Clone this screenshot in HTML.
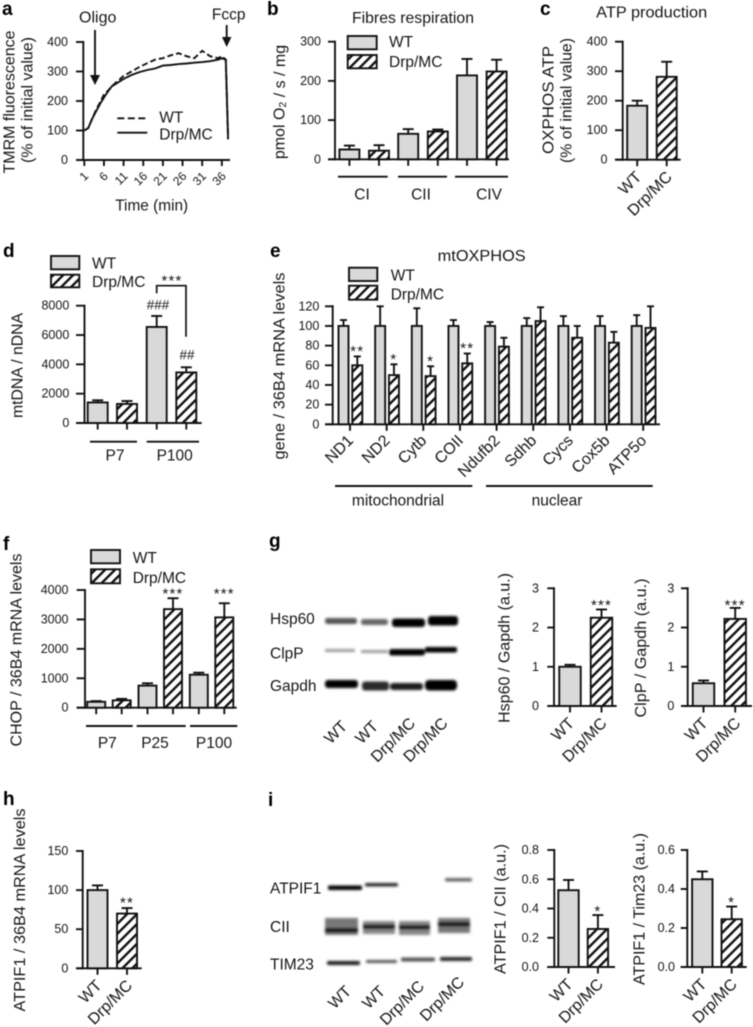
<!DOCTYPE html>
<html lang="en">
<head>
<meta charset="utf-8">
<title>Mitochondrial figure panels</title>
<style>
html,body{margin:0;padding:0;background:#fff;width:753px;height:1027px;overflow:hidden}
svg{display:block;filter:blur(.5px)}
text{font-family:"Liberation Sans",sans-serif;fill:#151515;dominant-baseline:central}
.letter{font-weight:bold;font-size:19px;fill:#000;dominant-baseline:auto}
.lab{font-size:15.5px}
.ttl{font-size:16px;text-anchor:middle}
.gray{fill:#d9d9d9;stroke:#111;stroke-width:1.9}
.hatch{fill:url(#hatch);stroke:#111;stroke-width:1.9}
</style>
</head>
<body>
<svg id="figure" xmlns="http://www.w3.org/2000/svg" width="753" height="1027" viewBox="0 0 753 1027">
<defs>
<pattern id="hatch" patternUnits="userSpaceOnUse" width="7" height="7" patternTransform="rotate(45)">
<rect width="7" height="7" fill="#fff"/><rect width="2.4" height="7" fill="#111"/>
</pattern>
<filter id="blur" x="-20%" y="-100%" width="140%" height="300%"><feGaussianBlur stdDeviation="1.2"/></filter>
</defs>

<!-- panel letters -->
<text class="letter" x="2" y="15">a</text>
<text class="letter" x="267" y="15">b</text>
<text class="letter" x="540" y="15">c</text>
<text class="letter" x="3" y="257">d</text>
<text class="letter" x="270" y="257">e</text>
<text class="letter" x="3" y="550">f</text>
<text class="letter" x="269" y="547">g</text>
<text class="letter" x="3" y="805">h</text>
<text class="letter" x="268" y="806">i</text>

<!-- panel a annotations -->
<text class="ttl" transform="rotate(-90 10 102)" x="10" y="102" textLength="143" lengthAdjust="spacingAndGlyphs">TMRM fluorescence</text>
<text class="ttl" transform="rotate(-90 28 100)" x="28" y="100" textLength="126" lengthAdjust="spacingAndGlyphs">(% of initial value)</text>
<text class="ttl" x="151.7" y="206" textLength="73" lengthAdjust="spacingAndGlyphs">Time (min)</text>
<text class="ttl" x="97.7" y="18">Oligo</text>
<text class="ttl" x="228.7" y="15" style="font-size:15.5px">Fccp</text>
<path d="M95 30V76" stroke="#111" stroke-width="1.9" fill="none"/>
<path d="M90 75H100L95 85Z" fill="#111"/>
<path d="M226.7 25V38" stroke="#111" stroke-width="1.9" fill="none"/>
<path d="M222 37H231.4L226.7 47Z" fill="#111"/>
<path d="M117.3 118.3H147.3" stroke="#111" stroke-width="1.9" stroke-dasharray="7 3.5" fill="none"/>
<path d="M117.3 132.7H147.3" stroke="#111" stroke-width="1.9" fill="none"/>
<text class="lab" x="159.3" y="118">WT</text>
<text class="lab" x="159.3" y="135">Drp/MC</text>

<!-- panel b annotations -->
<text class="ttl" x="413" y="18.3" textLength="122" lengthAdjust="spacingAndGlyphs">Fibres respiration</text>
<text class="ttl" transform="rotate(-90 280 102)" x="280" y="102">pmol O<tspan font-size="10.5" dy="3">2</tspan><tspan dy="-3"> / s / mg</tspan></text>
<rect class="gray" x="347.7" y="36" width="29" height="13.3"/>
<rect class="hatch" x="347.7" y="55" width="29" height="13.3"/>
<text class="lab" x="389" y="42.7">WT</text>
<text class="lab" x="389" y="62.3">Drp/MC</text>

<!-- panel c annotations -->
<text class="ttl" x="651.7" y="13" textLength="111" lengthAdjust="spacingAndGlyphs">ATP production</text>
<text class="ttl" transform="rotate(-90 549 100)" x="549" y="100" textLength="108" lengthAdjust="spacingAndGlyphs">OXPHOS ATP</text>
<text class="ttl" transform="rotate(-90 567 100.5)" x="567" y="100.5" textLength="125" lengthAdjust="spacingAndGlyphs">(% of initial value)</text>

<!-- panel d annotations -->
<text class="ttl" transform="rotate(-90 18 365.5)" x="18" y="365.5" textLength="105" lengthAdjust="spacingAndGlyphs">mtDNA / nDNA</text>
<rect class="gray" x="51" y="256" width="28.3" height="13.3"/>
<rect class="hatch" x="51" y="274.7" width="28.3" height="12.6"/>
<text class="lab" x="92" y="264">WT</text>
<text class="lab" x="92" y="282.7">Drp/MC</text>
<path d="M156.7 293.3V285.7H186V336.7" stroke="#111" stroke-width="1.7" fill="none"/>
<text class="ttl" x="172" y="281" style="font-size:15px;letter-spacing:1.2px">***</text>
<text class="ttl" x="158" y="305" style="font-size:13.5px">###</text>
<text class="ttl" x="187" y="355" style="font-size:13.5px">##</text>

<!-- panel e annotations -->
<text class="ttl" x="481.7" y="256.7" textLength="88" lengthAdjust="spacingAndGlyphs">mtOXPHOS</text>
<text class="ttl" transform="rotate(-90 280 366)" x="280" y="366" textLength="187" lengthAdjust="spacingAndGlyphs">gene / 36B4 mRNA levels</text>
<rect class="gray" x="349" y="267.7" width="28.3" height="13.3"/>
<rect class="hatch" x="349" y="285.7" width="28.3" height="14"/>
<text class="lab" x="390.7" y="276">WT</text>
<text class="lab" x="390.7" y="295">Drp/MC</text>

<!-- panel f annotations -->
<text class="ttl" transform="rotate(-90 17 650)" x="17" y="650" textLength="193" lengthAdjust="spacingAndGlyphs">CHOP / 36B4 mRNA levels</text>
<rect class="gray" x="91" y="550" width="29" height="13.3"/>
<rect class="hatch" x="91" y="569.3" width="29" height="14"/>
<text class="lab" x="132.7" y="558.3">WT</text>
<text class="lab" x="132.7" y="578.3">Drp/MC</text>

<!-- panel g blot -->
<g filter="url(#blur)">
<rect x="325" y="618" width="32" height="6" rx="2.5" fill="#555"/>
<rect x="361" y="619" width="27" height="6" rx="2.5" fill="#666"/>
<rect x="392" y="618.5" width="33" height="8.5" rx="3" fill="#000"/>
<rect x="428" y="616" width="30" height="9.5" rx="3" fill="#000"/>
<rect x="325" y="649" width="30" height="3" rx="1" fill="#999"/>
<rect x="361" y="650" width="27" height="3" rx="1" fill="#999"/>
<rect x="389" y="649" width="36" height="6.5" rx="2.5" fill="#000"/>
<rect x="425" y="647" width="32" height="5.5" rx="2" fill="#000"/>
<rect x="325" y="680" width="33" height="8" rx="3" fill="#050505"/>
<rect x="362" y="681.5" width="27" height="9" rx="3" fill="#2a2a2a"/>
<rect x="390" y="683" width="33" height="7" rx="3" fill="#1a1a1a"/>
<rect x="425" y="680" width="32" height="10.5" rx="4" fill="#000"/>
</g>
<text class="lab" x="270" y="619.5">Hsp60</text>
<text class="lab" x="270" y="654">ClpP</text>
<text class="lab" x="270" y="686.7">Gapdh</text>
<text class="lab" text-anchor="end" transform="rotate(-45 345 724)" x="345" y="724" style="font-size:16px">WT</text>
<text class="lab" text-anchor="end" transform="rotate(-45 376 724)" x="376" y="724" style="font-size:16px">WT</text>
<text class="lab" text-anchor="end" transform="rotate(-45 413 721)" x="413" y="721" style="font-size:16px">Drp/MC</text>
<text class="lab" text-anchor="end" transform="rotate(-45 445.5 721)" x="445.5" y="721" style="font-size:16px">Drp/MC</text>
<text class="ttl" transform="rotate(-90 505 648)" x="505" y="648" textLength="150" lengthAdjust="spacingAndGlyphs">Hsp60 / Gapdh (a.u.)</text>
<text class="ttl" transform="rotate(-90 641.7 648)" x="641.7" y="648" textLength="139" lengthAdjust="spacingAndGlyphs">ClpP / Gapdh (a.u.)</text>

<!-- panel h annotations -->
<text class="ttl" transform="rotate(-90 20.7 910)" x="20.7" y="910" textLength="203" lengthAdjust="spacingAndGlyphs">ATPIF1 / 36B4 mRNA levels</text>

<!-- panel i blot -->
<g filter="url(#blur)">
<rect x="328" y="885.5" width="34" height="4.5" rx="1.5" fill="#000"/>
<rect x="365" y="883" width="33" height="3.5" rx="1.5" fill="#2a2a2a"/>
<rect x="445" y="878" width="27" height="3.5" rx="1.5" fill="#666"/>
<rect x="325" y="918" width="33" height="17" fill="#777"/>
<rect x="363" y="921" width="32" height="13" fill="#888"/>
<rect x="399" y="921" width="31" height="14" fill="#888"/>
<rect x="438" y="918" width="32" height="15" fill="#777"/>
<rect x="325" y="928" width="33" height="4.5" fill="#111"/>
<rect x="363" y="924.5" width="32" height="4.5" fill="#111"/>
<rect x="399" y="925" width="31" height="4.5" fill="#111"/>
<rect x="438" y="922" width="32" height="4.5" fill="#111"/>
<rect x="327" y="961" width="33" height="4" rx="1.5" fill="#1a1a1a"/>
<rect x="366" y="960" width="31" height="3" rx="1" fill="#555"/>
<rect x="401" y="957.5" width="34" height="4" rx="1.5" fill="#555"/>
<rect x="440" y="957" width="32" height="4" rx="1.5" fill="#2a2a2a"/>
</g>
<text class="lab" x="270" y="889">ATPIF1</text>
<text class="lab" x="270" y="927.3">CII</text>
<text class="lab" x="270" y="965">TIM23</text>
<text class="lab" text-anchor="end" transform="rotate(-45 349 989)" x="349" y="989" style="font-size:16px">WT</text>
<text class="lab" text-anchor="end" transform="rotate(-45 383 989)" x="383" y="989" style="font-size:16px">WT</text>
<text class="lab" text-anchor="end" transform="rotate(-45 422 984)" x="422" y="984" style="font-size:16px">Drp/MC</text>
<text class="lab" text-anchor="end" transform="rotate(-45 462 980)" x="462" y="980" style="font-size:16px">Drp/MC</text>
<text class="ttl" transform="rotate(-90 501 909)" x="501" y="909" textLength="130" lengthAdjust="spacingAndGlyphs">ATPIF1 / CII (a.u.)</text>
<text class="ttl" transform="rotate(-90 640 909)" x="640" y="909" textLength="152" lengthAdjust="spacingAndGlyphs">ATPIF1 / Tim23 (a.u.)</text>
</svg>

<script>
// ---- panel a data
const aTimes = [1,2,3,4,5,6,7,8,9,11,13,15,17,19,21,23,25,27,29,31,33,35,36,37,37.6];
const aWT =    [100,108,140,170,195,222,235,250,262,285,300,315,328,340,345,355,362,352,345,370,352,345,352,340,72];
const aDrp =   [100,108,140,165,190,212,232,250,258,275,288,298,305,310,320,322,325,327,330,332,335,340,345,340,70];
const aYTicks = [0,100,200,300,400];
const aXTicks = [1,6,11,16,21,26,31,36];
// ---- panel b data
const bCategories = ['CI','CII','CIV'];
const bWT = [25,65,214];
const bWTErr = [35,77,256];
const bDrp = [22,71,224];
const bDrpErr = [36,76,254];
const bYTicks = [0,100,200,300];
// ---- panel c data
const twoCategories = ['WT','Drp/MC'];
const cValues = [183,281];
const cErrors = [200,332];
const cYTicks = [0,100,200,300,400];
// ---- panel d data
const dCategories = ['P7','P100'];
const dWT = [1400,6550];
const dWTErr = [1550,7300];
const dDrp = [1300,3450];
const dDrpErr = [1500,3800];
const dYTicks = [0,2000,4000,6000,8000];
// ---- panel e data
const eCategories = ['ND1','ND2','Cytb','COII','Ndufb2','Sdhb','Cycs','Cox5b','ATP5o'];
const eWT = [100,100,100,100,100,100,100,100,100];
const eWTErr = [106,120,118,106,104,108,110,110,111];
const eDrp = [60,50,49,62,79,105,88,83,98];
const eDrpErr = [69,61,59,72,88,119,100,94,120];
const eStars = ['**','*','*','**','','','','',''];
const eYTicks = [0,20,40,60,80,100,120];
const eGroups = ['mitochondrial','nuclear'];
// ---- panel f data
const fCategories = ['P7','P25','P100'];
const fWT = [200,750,1120];
const fWTErr = [225,830,1190];
const fDrp = [250,3350,3070];
const fDrpErr = [300,3720,3550];
const fStars = ['','***','***'];
const fStarLevels = [3864,3864,3864];
const fYTicks = [0,1000,2000,3000,4000];
// ---- panel g data
const g1Values = [1.0,2.25];
const g1Errors = [1.05,2.46];
const g1Stars = ['','***'];
const g2Values = [0.58,2.22];
const g2Errors = [0.65,2.5];
const g2Stars = ['','***'];
const gYTicks = [0,1,2,3];
// ---- panel h data
const hValues = [100,70];
const hErrors = [106,77];
const hStars = ['','**'];
const hYTicks = [0,50,100,150];
// ---- panel i data
const i1Values = [0.525,0.26];
const i1Errors = [0.595,0.355];
const i1Stars = ['','*'];
const i1YTicks = ['0.0','0.2','0.4','0.6','0.8'];
const i2Values = [0.45,0.245];
const i2Errors = [0.49,0.31];
const i2Stars = ['','*'];
const i2YTicks = ['0.0','0.2','0.4','0.6'];

const NS = 'http://www.w3.org/2000/svg';
const svg = document.getElementById('figure');

function mk(tag, name, attrs) {
  const el = document.createElementNS(NS, tag);
  for (const k in attrs) el.setAttribute(k, attrs[k]);
  
  
  svg.appendChild(el);
  return el;
}
function line(name, x1, y1, x2, y2, w) {
  return mk('line', name, {x1, y1, x2, y2, stroke: '#111', 'stroke-width': w || 1.9, 'stroke-linecap': 'butt'});
}
function label(name, s, x, y, size, anchor, rot) {
  const attrs = {x, y, 'font-size': size, 'text-anchor': anchor || 'middle'};
  if (rot) attrs.transform = 'rotate(' + rot + ' ' + x + ' ' + y + ')';
  const el = mk('text', name, attrs);
  el.textContent = s;
  return el;
}
// Builds value axis + baseline, returns the y scale.
function axes(p, o) {
  const y = v => o.y0 - (Number(v) / o.yMax) * (o.y0 - o.yTop);
  line(p + '-y-axis', o.x, o.yTop - 1, o.x, o.y0 + 1);
  line(p + '-x-axis', o.tickX, o.y0, o.xEnd, o.y0);
  o.ticks.forEach(t => {
    line(p + '-y-tick', o.tickX, y(t), o.x, y(t));
    label(p + '-y-tick-label', String(t), o.labelX, y(t), o.size || 12.5, 'end');
  });
  return y;
}
function bars(p, series, y, x, y0, vals, errs, style, barW, capW, drawTick) {
  vals.forEach((v, i) => {
    const cx = x(i);
    line(p + '-' + series + '-error-bar', cx, y(v), cx, y(errs[i]), 1.9);
    line(p + '-' + series + '-error-cap', cx - capW / 2, y(errs[i]), cx + capW / 2, y(errs[i]), 1.9);
    mk('rect', p + '-' + series + '-bar', {x: cx - barW / 2, y: y(v), width: barW, height: Math.max(0, y0 - y(v)), class: style});
    if (drawTick) line(p + '-' + series + '-x-tick', cx, y0, cx, y0 + 6.5);
  });
}
function stars(p, marks, errs, x, y, off, size) {
  marks.forEach((s, i) => {
    if (!s) return;
    const el = label(p + '-significance', s, x(i), y(errs[i]) - off, size || 15);
    el.setAttribute('letter-spacing', '1.2');
  });
}
function groupLine(name, x1, x2, yy) { line(name, x1, yy, x2, yy, 1.9); }

// ---------- panel a
(function () {
  const y = axes('a', {x: 83.3, xEnd: 230, tickX: 76, y0: 160, yTop: 42, yMax: 400, ticks: aYTicks, labelX: 68});
  const x = t => 84.3 + (t - 1) * 3.93;
  aXTicks.forEach(t => {
    line('a-x-tick', x(t), 160, x(t), 166);
    label('a-x-tick-label', String(t), x(t) + 2, 174, 12, 'end', -45);
  });
  const pts = (vals) => aTimes.map((t, i) => x(t).toFixed(1) + ',' + y(vals[i]).toFixed(1)).join(' ');
  mk('polyline', 'a-wt-line', {points: pts(aWT), fill: 'none', stroke: '#111', 'stroke-width': 1.9, 'stroke-dasharray': '6 3'});
  mk('polyline', 'a-drp-line', {points: pts(aDrp), fill: 'none', stroke: '#111', 'stroke-width': 1.9});
})();

// ---------- panel b
(function () {
  const y0 = 159.3;
  const y = axes('b', {x: 335, xEnd: 509, tickX: 328, y0, yTop: 41.7, yMax: 300, ticks: bYTicks, labelX: 321});
  const xw = i => 349.4 + i * 58.8;
  const xd = i => 379 + i * 58.8;
  bars('b', 'wt', y, xw, y0, bWT, bWTErr, 'gray', 20, 11, true);
  bars('b', 'drp', y, xd, y0, bDrp, bDrpErr, 'hatch', 20, 11, true);
  groupLine('b-group-line-ci', 338, 387.7, 176.7);
  groupLine('b-group-line-cii', 398, 447, 176.7);
  groupLine('b-group-line-civ', 455, 508, 176.7);
  label('b-group-label', bCategories[0], 362, 195, 15.5);
  label('b-group-label', bCategories[1], 421, 195, 15.5);
  label('b-group-label', bCategories[2], 489, 195, 15.5);
})();

// two-bar helper
function twoBars(p, o, vals, errs) {
  const y = axes(p, o);
  const x = i => o.xStart + i * o.step;
  vals.forEach((v, i) => {
    bars(p, i ? 'drp' : 'wt', y, () => x(i), o.y0, [v], [errs[i]], i ? 'hatch' : 'gray', o.barW, 11, true);
    label(p + '-x-tick-label', twoCategories[i], x(i) + 3 - (i ? 0 : 1), o.y0 + 15, 16, 'end', -45);
  });
  return {x, y};
}

// ---------- panel c
twoBars('c', {x: 622.7, xEnd: 680.7, tickX: 615, y0: 159.7, yTop: 41.7, yMax: 400, ticks: cYTicks, labelX: 607.5, xStart: 637.2, step: 29.5, barW: 20}, cValues, cErrors);

// ---------- panel d
(function () {
  const y0 = 423;
  const y = axes('d', {x: 84.5, xEnd: 201.7, tickX: 76, y0, yTop: 305.7, yMax: 8000, ticks: dYTicks, labelX: 69.3});
  const xw = i => 97.7 + i * 59;
  const xd = i => 127 + i * 59.3;
  bars('d', 'wt', y, xw, y0, dWT, dWTErr, 'gray', 20, 11, true);
  bars('d', 'drp', y, xd, y0, dDrp, dDrpErr, 'hatch', 20, 11, true);
  groupLine('d-group-line-p7', 90, 137, 441.7);
  groupLine('d-group-line-p100', 146.7, 199, 441.7);
  label('d-group-label', dCategories[0], 115, 456, 15.5);
  label('d-group-label', dCategories[1], 174.7, 456, 15.5);
})();

// ---------- panel e
(function () {
  const y0 = 424.3;
  const y = axes('e', {x: 332.7, xEnd: 660, tickX: 325, y0, yTop: 306.3, yMax: 120, ticks: eYTicks, labelX: 319.3});
  const xw = i => 343.5 + i * 36.65;
  const xd = i => 357.3 + i * 36.65;
  const xc = i => 350 + i * 36.65;
  bars('e', 'wt', y, xw, y0, eWT, eWTErr, 'gray', 10, 7, false);
  bars('e', 'drp', y, xd, y0, eDrp, eDrpErr, 'hatch', 10, 7, false);
  stars('e', eStars, eDrpErr, xd, y, 5, 15);
  eCategories.forEach((c, i) => {
    line('e-x-tick', xc(i), y0, xc(i), y0 + 6.5);
    label('e-x-tick-label', c, xc(i) + 1, y0 + 14, 16, 'end', -45);
  });
  groupLine('e-group-line-mitochondrial', 335, 472.3, 486);
  groupLine('e-group-line-nuclear', 486, 652.7, 486);
  label('e-group-label', eGroups[0], 398, 501, 15.5);
  label('e-group-label', eGroups[1], 557, 501, 15.5);
})();

// ---------- panel f
(function () {
  const y0 = 707.7;
  const y = axes('f', {x: 85, xEnd: 236.7, tickX: 76.7, y0, yTop: 590, yMax: 4000, ticks: fYTicks, labelX: 68.5});
  const xw = i => 96.2 + i * 51.3;
  const xd = i => 121.7 + i * 51.3;
  bars('f', 'wt', y, xw, y0, fWT, fWTErr, 'gray', 18, 11, true);
  bars('f', 'drp', y, xd, y0, fDrp, fDrpErr, 'hatch', 18, 11, true);
  stars('f', fStars, fStarLevels, xd, y, 0, 15);
  groupLine('f-group-line-p7', 86, 132.7, 726);
  groupLine('f-group-line-p25', 136.7, 185.7, 726);
  groupLine('f-group-line-p100', 190, 237.3, 726);
  label('f-group-label', fCategories[0], 107.3, 743.3, 15.5);
  label('f-group-label', fCategories[1], 155, 743.3, 15.5);
  label('f-group-label', fCategories[2], 214, 743.3, 15.5);
})();

// ---------- panel g
(function () {
  const a = twoBars('g1', {x: 554, xEnd: 616.7, tickX: 547.3, y0: 706, yTop: 588.3, yMax: 3, ticks: gYTicks, labelX: 539, xStart: 570, step: 31.5, barW: 21.5}, g1Values, g1Errors);
  stars('g1', g1Stars, g1Errors, a.x, a.y, 4, 15);
  const b = twoBars('g2', {x: 687.7, xEnd: 752, tickX: 681, y0: 706, yTop: 588.3, yMax: 3, ticks: gYTicks, labelX: 674.3, xStart: 703.5, step: 31.7, barW: 21.5}, g2Values, g2Errors);
  stars('g2', g2Stars, g2Errors, b.x, b.y, 2.5, 15);
})();

// ---------- panel h
(function () {
  const a = twoBars('h', {x: 82.7, xEnd: 141.7, tickX: 76, y0: 968.3, yTop: 851, yMax: 150, ticks: hYTicks, labelX: 68.3, xStart: 97.5, step: 29.5, barW: 20}, hValues, hErrors);
  stars('h', hStars, hErrors, a.x, a.y, 5, 15);
})();

// ---------- panel i
(function () {
  const a = twoBars('i1', {x: 554.3, xEnd: 615, tickX: 547.3, y0: 967, yTop: 850, yMax: 0.8, ticks: i1YTicks, labelX: 539, xStart: 568.5, step: 29.4, barW: 20.4}, i1Values, i1Errors);
  stars('i1', i1Stars, i1Errors, a.x, a.y, 3.5, 15);
  const b = twoBars('i2', {x: 687.3, xEnd: 746.7, tickX: 680.7, y0: 967, yTop: 850, yMax: 0.6, ticks: i2YTicks, labelX: 675, xStart: 702.3, step: 29.4, barW: 20.4}, i2Values, i2Errors);
  stars('i2', i2Stars, i2Errors, b.x, b.y, 4, 15);
})();
</script>
</body>
</html>
